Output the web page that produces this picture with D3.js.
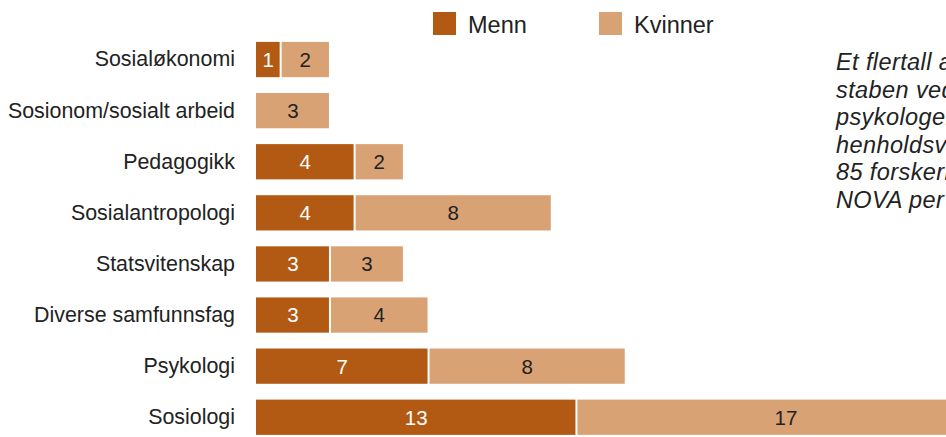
<!DOCTYPE html>
<html>
<head>
<meta charset="utf-8">
<script src="https://cdn.jsdelivr.net/npm/d3@7"></script>
<style>
  body { margin: 0; background: #fff; overflow: hidden; }
  text { font-family: "Liberation Sans", Arial, sans-serif; }
</style>
</head>
<body>
<script>
const categories = ["Sosialøkonomi", "Sosionom/sosialt arbeid", "Pedagogikk", "Sosialantropologi",
    "Statsvitenskap", "Diverse samfunnsfag", "Psykologi", "Sosiologi"]
const menn = [1, 0, 4, 4, 3, 3, 7, 13]
const kvinner = [2, 3, 2, 8, 3, 4, 8, 17]
const seriesNames = ["Menn", "Kvinner"]
const noteLines = ["Et flertall av", "staben ved", "psykologer", "henholdsvis", "85 forskerne", "NOVA per"]

const colors = {Menn: "#b25a13", Kvinner: "#d9a275"}
const width = 946, height = 437

const svg = d3.select("body").append("svg")
    .attr("width", width)
    .attr("height", height)

const x = d3.scaleLinear().domain([0, 30]).range([256, 256 + 30 * 24.65])
const y = d3.scaleBand().domain(categories)
    .range([34, 34 + 8 * 51.1])
    .paddingInner(0.31)
    .paddingOuter(0.155)

const rows = categories.map((c, i) => ({cat: c, Menn: menn[i], Kvinner: kvinner[i]}))
const stacked = d3.stack().keys(seriesNames)(rows)

const layers = svg.append("g").selectAll("g")
    .data(stacked)
    .enter().append("g")
    .attr("fill", d => colors[d.key])

layers.selectAll("rect")
    .data(d => d.map(v => ({key: d.key, v})).filter(d => d.v[1] > d.v[0]))
    .enter().append("rect")
    .attr("x", d => x(d.v[0]) + (d.v[0] > 0 ? 1 : 0))
    .attr("y", d => y(d.v.data.cat))
    .attr("width", d => x(d.v[1]) - x(d.v[0]) - (d.v[0] > 0 ? 1 : 0) - 1)
    .attr("height", y.bandwidth())

// value labels
layers.selectAll("text")
    .data(d => d.map(v => ({key: d.key, v})).filter(d => d.v[1] > d.v[0]))
    .enter().append("text")
    .attr("x", d => (x(d.v[0]) + x(d.v[1])) / 2)
    .attr("y", d => y(d.v.data.cat) + y.bandwidth() / 2)
    .attr("dy", "0.36em")
    .attr("text-anchor", "middle")
    .attr("font-size", 20.5)
    .attr("fill", d => d.key === "Menn" ? "#fff" : "#222")
    .text(d => d.v[1] - d.v[0])

// category axis
const yAxis = svg.append("g")
    .attr("transform", "translate(235,0)")
    .call(d3.axisLeft(y).tickSize(0).tickPadding(0))
yAxis.select(".domain").remove()
yAxis.selectAll("text")
    .attr("font-size", 21.4)
    .attr("fill", "#222")
    .style("font-family", "'Liberation Sans', Arial, sans-serif")

// legend
const legend = svg.append("g")
const legX = [433, 599]
seriesNames.forEach((name, i) => {
    legend.append("rect")
        .attr("x", legX[i]).attr("y", 12)
        .attr("width", 23).attr("height", 23)
        .attr("fill", colors[name])
    legend.append("text")
        .attr("x", legX[i] + 35).attr("y", 33)
        .attr("font-size", 23.5)
        .attr("fill", "#222")
        .text(name)
})

// note text on the right (runs past the frame, as in the original)
svg.append("g").selectAll("text")
    .data(noteLines)
    .enter().append("text")
    .attr("x", 836)
    .attr("y", (d, i) => 70 + i * 27.6)
    .attr("font-size", 23.5)
    .attr("letter-spacing", 0.4)
    .attr("font-style", "italic")
    .attr("fill", "#222")
    .text(d => d)
</script>
</body>
</html>
